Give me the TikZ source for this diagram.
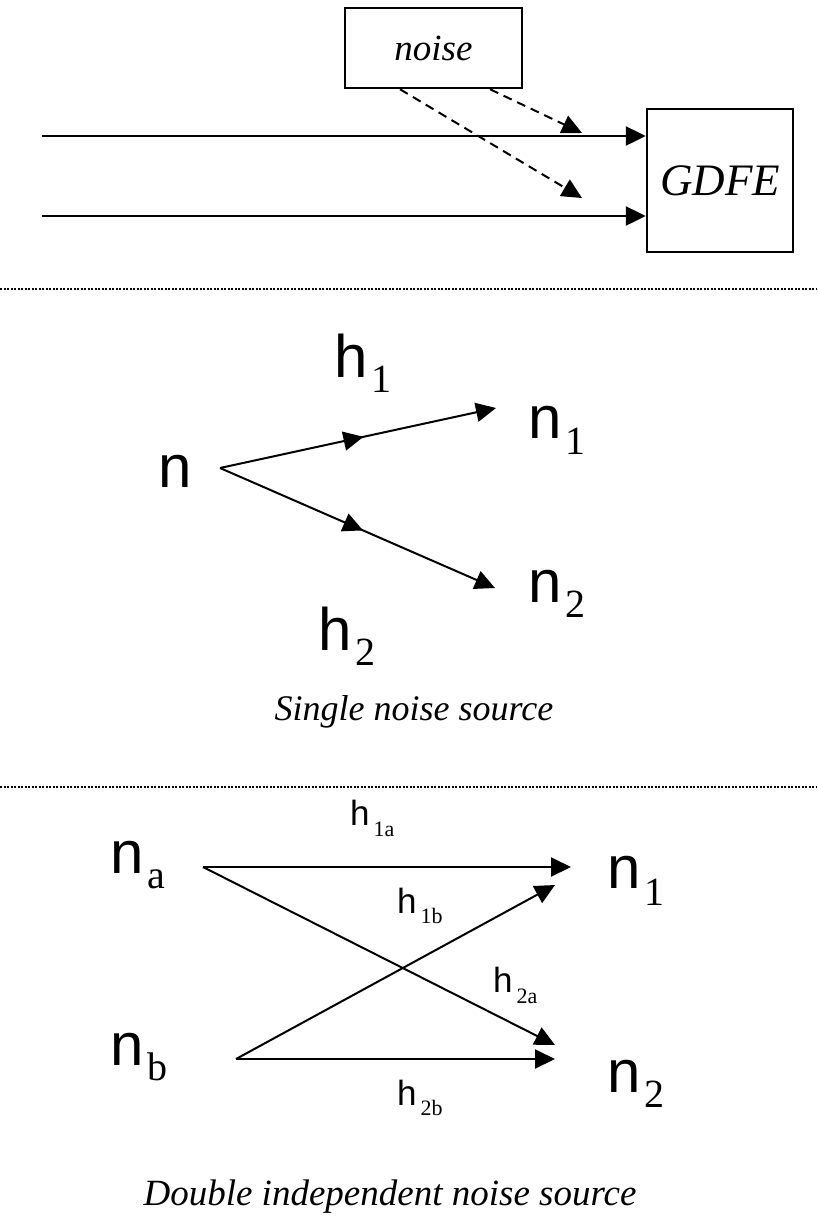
\documentclass[tikz,border=0pt]{standalone}
\usepackage{fontspec}
\setmainfont{Liberation Serif}
\setsansfont{Liberation Sans}
\usetikzlibrary{arrows.meta,decorations.markings}
\newcommand\lab[5]{{\fontsize{#1pt}{#1pt}\selectfont\sffamily #2}\hspace{4pt}\raisebox{-#5pt}{\fontsize{#3pt}{#3pt}\selectfont #4}}
\begin{document}
\begin{tikzpicture}[x=1pt,y=-1pt,
  tip/.style={-{Triangle[length=20pt,width=19pt]}},
  conn/.style={line width=2pt, tip},
  lbl/.style={anchor=base west, inner sep=0pt},
  sep/.style={line width=2pt, dash pattern=on 2pt off 1.5pt},
  box/.style={draw, line width=2.5pt, inner sep=0pt},
  noisearrow/.style={line width=2pt, dash pattern=on 9pt off 6pt, tip},
  midarrow/.style={postaction={decorate}, decoration={markings, mark=at position #1 with {\arrow{Triangle[length=20pt,width=19pt]}}}}]
\useasboundingbox (0,0) rectangle (817,1216);
\fill[white] (0,0) rectangle (817,1216);
% ---- top section
\node[box, minimum width=177pt, minimum height=80pt] (noise) at (433.5,48) {\fontsize{37pt}{37pt}\selectfont\itshape noise};
\node[box, minimum width=146pt, minimum height=143pt] (gdfe) at (720,180.5) {\fontsize{45pt}{45pt}\selectfont\itshape GDFE};
\coordinate (in1) at (42,136);
\coordinate (in2) at (42,216);
\draw[conn, line width=2.5pt] (in1) -- (in1 -| gdfe.west);
\draw[conn, line width=2.5pt] (in2) -- (in2 -| gdfe.west);
\coordinate (d1) at (582,133);
\coordinate (d2) at (582,198);
\draw[noisearrow] ([xshift=56.5pt]noise.south) -- (d1);
\draw[noisearrow] ([xshift=-33.5pt]noise.south) -- (d2);
\draw[sep] (0,289) -- (817,289);
% ---- single noise source
\node[lbl] (n) at (158,487) {\fontsize{60pt}{60pt}\selectfont\sffamily n};
\node[lbl] (h1) at (334,377) {\lab{60}{h}{40}{1}{15}};
\node[lbl] (h2) at (318,650) {\lab{60}{h}{40}{2}{15}};
\node[lbl] (n1) at (528,438) {\lab{60}{n}{40}{1}{16}};
\node[lbl] (n2) at (528,602) {\lab{60}{n}{40}{2}{15}};
\coordinate (s) at (220,468);
\coordinate (t1) at (496,408);
\coordinate (t2) at (495,588);
\draw[conn, midarrow=0.52] (s) -- (t1);
\draw[conn, midarrow=0.52] (s) -- (t2);
\node[anchor=base] (cap1) at (414,720) {\fontsize{36pt}{36pt}\selectfont\itshape Single noise source};
\draw[sep] (0,787) -- (817,787);
% ---- double noise source
\node[lbl] (na) at (110,873) {\lab{60}{n}{40}{a}{15}};
\node[lbl] (nb) at (110,1065) {\lab{60}{n}{40}{b}{15}};
\node[lbl] (m1) at (607,888) {\lab{60}{n}{40}{1}{17}};
\node[lbl] (m2) at (607,1092) {\lab{60}{n}{40}{2}{15}};
\node[lbl] (h1a) at (350,825) {\lab{35}{h}{22}{1a}{11}};
\node[lbl] (h1b) at (397,913) {\lab{35}{h}{22}{1b}{10}};
\node[lbl] (h2a) at (493,992) {\lab{35}{h}{22}{2a}{11}};
\node[lbl] (h2b) at (397,1105) {\lab{35}{h}{22}{2b}{10}};
\coordinate (sa) at (203,867);
\coordinate (sb) at (236,1059);
\coordinate (e1) at (571,867);
\coordinate (e1b) at (555,885);
\coordinate (e2a) at (555,1045);
\coordinate (e2) at (555,1059);
\draw[conn] (sa) -- (e1);
\draw[conn] (sa) -- (e2a);
\draw[conn] (sb) -- (e1b);
\draw[conn] (sb) -- (e2);
\node[anchor=base] (cap2) at (390,1205) {\fontsize{37pt}{37pt}\selectfont\itshape Double independent noise source};
\end{tikzpicture}
\end{document}
